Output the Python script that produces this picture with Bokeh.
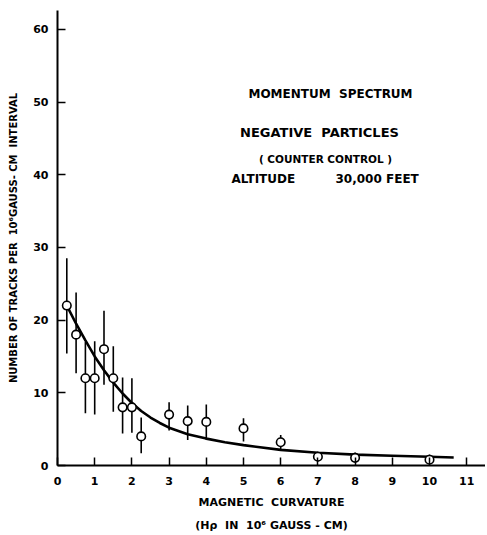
import math
from bokeh.plotting import figure
from bokeh.models import Label, Range1d, FixedTicker, Title
from bokeh.embed import file_html
from bokeh.resources import INLINE

# ---- data ----
x_vals = [0.25, 0.5, 0.75, 1.0, 1.25, 1.5, 1.75, 2.0, 2.25, 3.0, 3.5, 4.0, 5.0, 6.0, 7.0, 8.0, 10.0]
y_vals = [22.0, 18.0, 12.0, 12.0, 16.0, 12.0, 8.0, 8.0, 4.0, 7.0, 6.1, 6.0, 5.1, 3.2, 1.2, 1.05, 0.8]
y_upper = [28.5, 23.8, 17.0, 17.1, 21.3, 16.4, 12.1, 12.0, 6.6, 8.7, 8.25, 8.4, 6.5, 4.2, 1.9, 1.8, 1.5]
y_lower = [15.4, 12.7, 7.2, 7.0, 11.1, 7.4, 4.4, 4.5, 1.7, 4.8, 3.5, 3.5, 3.3, 2.0, 0.55, 0.45, 0.3]

curve_x = [0.25, 0.5, 0.75, 1.0, 1.25, 1.5, 1.75, 2.0, 2.25, 2.5, 2.75, 3.0, 3.5, 4.0, 4.5, 5.0, 6.0, 7.0, 8.0, 9.0, 10.0, 10.65]
curve_y = [22.0, 19.5, 17.2, 15.0, 13.1, 11.4, 9.9, 8.6, 7.5, 6.6, 5.85, 5.2, 4.3, 3.7, 3.2, 2.8, 2.15, 1.75, 1.5, 1.35, 1.2, 1.1]

x_ticks = list(range(0, 12))
y_ticks = list(range(0, 61, 10))

FONT = "DejaVu Sans"
NB = "\u00a0"

W, H = 485, 535
BL, BB, BT = 57, 70, 10
frame_w = W - BL
frame_h = H - BB - BT
PXX = 37.2   # px per x unit
PXY = 7.27   # px per y unit

p = figure(width=W, height=H, output_backend="svg", toolbar_location=None,
           x_range=Range1d(0, frame_w / PXX), y_range=Range1d(0, frame_h / PXY),
           min_border_left=BL, min_border_bottom=BB, min_border_top=BT, min_border_right=0)
p.outline_line_color = None
p.grid.visible = False
p.background_fill_color = "white"

for ax in (p.xaxis[0], p.yaxis[0]):
    ax.axis_line_width = 2
    ax.axis_line_color = "black"
    ax.major_tick_in = 8
    ax.major_tick_out = 0
    ax.major_tick_line_width = 1.5
    ax.major_tick_line_color = "black"
    ax.minor_tick_line_color = None
    ax.major_label_text_font = FONT
    ax.major_label_text_font_style = "bold"
    ax.major_label_text_font_size = "11px"
    ax.major_label_text_color = "black"
p.xaxis[0].ticker = FixedTicker(ticks=x_ticks)
p.yaxis[0].ticker = FixedTicker(ticks=y_ticks)
p.xaxis[0].major_label_standoff = 11
p.yaxis[0].major_label_standoff = 9

yax = p.yaxis[0]
yax.axis_label = "NUMBER OF TRACKS PER" + NB + " 10\u2076GAUSS- CM" + NB + " INTERVAL"
yax.axis_label_text_font = FONT
yax.axis_label_text_font_style = "bold"
yax.axis_label_text_font_size = "10px"
yax.axis_label_text_color = "black"
yax.axis_label_standoff = 11

def title_below(text, offset, standoff):
    t = Title(text=text, align="center", offset=offset, standoff=standoff,
              text_font=FONT, text_font_style="bold", text_font_size="11px",
              text_color="black")
    p.add_layout(t, "below")

title_below("MAGNETIC" + NB + " CURVATURE", 7, 12)
title_below("(H\u03c1" + NB + " IN" + NB + " 10\u2076 GAUSS" + NB + "-" + NB + "CM)", 8, 4)

# error bars, curve, points
p.segment(x0=x_vals, y0=y_lower, x1=x_vals, y1=y_upper, line_color="black", line_width=1.6)
p.line(curve_x, curve_y, line_color="black", line_width=2.6)
p.scatter(x_vals, y_vals, marker="circle", size=8.5, line_color="black", line_width=1.6,
          fill_color="white")

# helpers converting picture pixel positions into data positions
def X(px):
    return (px - BL) / PXX

def Y(py):
    return (H - BB - py) / PXY

def lab(text, px, py, size="12px", align="center"):
    p.add_layout(Label(x=X(px), y=Y(py), text=text, text_font=FONT, text_font_style="bold",
                       text_font_size=size, text_align=align, text_baseline="middle",
                       text_color="black"))

# in-plot annotations
lab("MOMENTUM" + NB + " SPECTRUM", 330, 93, "12px")
lab("NEGATIVE" + NB + " PARTICLES", 319, 132, "13px")
lab("( COUNTER CONTROL )", 325, 158, "10.5px")
lab("ALTITUDE", 231, 178, "12px", align="left")
lab("30,000 FEET", 335, 178, "12px", align="left")

open("out.html", "w").write(file_html(p, INLINE))
